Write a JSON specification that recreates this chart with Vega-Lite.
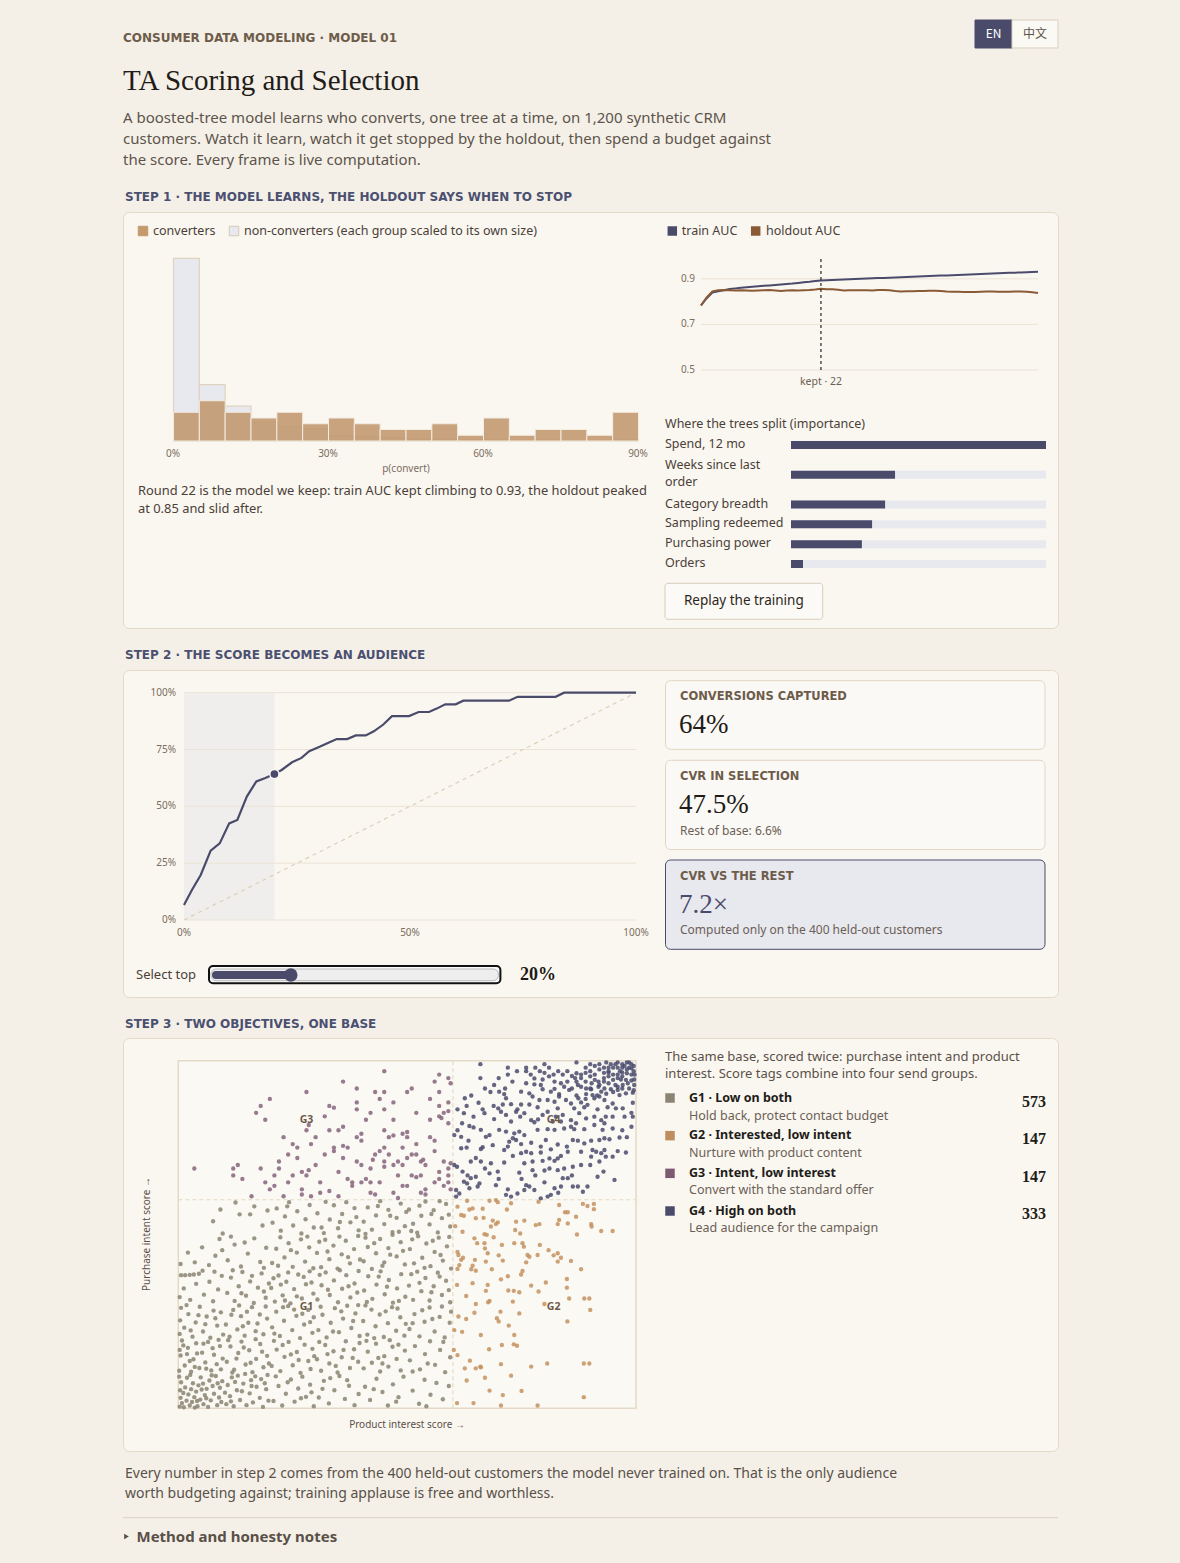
{
"$schema":"https://vega.github.io/schema/vega-lite/v6.json",
"background":"#f4f0e8",
"padding":{"left":122,"right":123,"top":0,"bottom":0},
"bounds":"flush",
"spacing":0,
"config":{
 "view":{"stroke":null},
 "axis":{"disable":true},
 "legend":{"disable":true},
 "scale":{"pointPadding":0,"bandPaddingInner":0,"bandPaddingOuter":0},
 "text":{"font":"Noto Sans","baseline":"middle","align":"left","fontSize":13,"color":"#4a4038"}
},
"datasets":{
 "hist":[{"lo":0,"hi":0.05,"conv":0.085,"non":0.54},{"lo":0.05,"hi":0.1,"conv":0.119,"non":0.167},{"lo":0.1,"hi":0.15,"conv":0.085,"non":0.103},{"lo":0.15,"hi":0.2,"conv":0.068,"non":0.056},{"lo":0.2,"hi":0.25,"conv":0.085,"non":0.041},{"lo":0.25,"hi":0.3,"conv":0.051,"non":0.035},{"lo":0.3,"hi":0.35,"conv":0.068,"non":0.015},{"lo":0.35,"hi":0.4,"conv":0.051,"non":0.012},{"lo":0.4,"hi":0.45,"conv":0.034,"non":0.009},{"lo":0.45,"hi":0.5,"conv":0.034,"non":0.006},{"lo":0.5,"hi":0.55,"conv":0.051,"non":0.006},{"lo":0.55,"hi":0.6,"conv":0.017,"non":0.003},{"lo":0.6,"hi":0.65,"conv":0.068,"non":0.003},{"lo":0.65,"hi":0.7,"conv":0.017,"non":0},{"lo":0.7,"hi":0.75,"conv":0.034,"non":0.003},{"lo":0.75,"hi":0.8,"conv":0.034,"non":0},{"lo":0.8,"hi":0.85,"conv":0.017,"non":0},{"lo":0.85,"hi":0.9,"conv":0.085,"non":0.003}],
 "auc":[{"r":1,"tr":0.783,"ho":0.783},{"r":2,"tr":0.815,"ho":0.818},{"r":3,"tr":0.84,"ho":0.845},{"r":4,"tr":0.845,"ho":0.85},{"r":5,"tr":0.85,"ho":0.851},{"r":6,"tr":0.855,"ho":0.85},{"r":7,"tr":0.858,"ho":0.849},{"r":8,"tr":0.861,"ho":0.85},{"r":9,"tr":0.863,"ho":0.849},{"r":10,"tr":0.865,"ho":0.848},{"r":11,"tr":0.867,"ho":0.849},{"r":12,"tr":0.869,"ho":0.85},{"r":13,"tr":0.871,"ho":0.851},{"r":14,"tr":0.873,"ho":0.849},{"r":15,"tr":0.875,"ho":0.847},{"r":16,"tr":0.877,"ho":0.849},{"r":17,"tr":0.879,"ho":0.85},{"r":18,"tr":0.882,"ho":0.849},{"r":19,"tr":0.885,"ho":0.85},{"r":20,"tr":0.887,"ho":0.851},{"r":21,"tr":0.89,"ho":0.853},{"r":22,"tr":0.893,"ho":0.856},{"r":23,"tr":0.894,"ho":0.854},{"r":24,"tr":0.895,"ho":0.854},{"r":25,"tr":0.896,"ho":0.852},{"r":26,"tr":0.897,"ho":0.849},{"r":27,"tr":0.898,"ho":0.85},{"r":28,"tr":0.899,"ho":0.85},{"r":29,"tr":0.9,"ho":0.85},{"r":30,"tr":0.901,"ho":0.85},{"r":31,"tr":0.902,"ho":0.849},{"r":32,"tr":0.903,"ho":0.851},{"r":33,"tr":0.904,"ho":0.851},{"r":34,"tr":0.905,"ho":0.85},{"r":35,"tr":0.906,"ho":0.846},{"r":36,"tr":0.907,"ho":0.844},{"r":37,"tr":0.908,"ho":0.845},{"r":38,"tr":0.909,"ho":0.845},{"r":39,"tr":0.91,"ho":0.846},{"r":40,"tr":0.911,"ho":0.847},{"r":41,"tr":0.912,"ho":0.848},{"r":42,"tr":0.913,"ho":0.848},{"r":43,"tr":0.914,"ho":0.846},{"r":44,"tr":0.915,"ho":0.844},{"r":45,"tr":0.916,"ho":0.843},{"r":46,"tr":0.917,"ho":0.843},{"r":47,"tr":0.918,"ho":0.842},{"r":48,"tr":0.919,"ho":0.842},{"r":49,"tr":0.92,"ho":0.842},{"r":50,"tr":0.921,"ho":0.843},{"r":51,"tr":0.922,"ho":0.844},{"r":52,"tr":0.923,"ho":0.844},{"r":53,"tr":0.924,"ho":0.843},{"r":54,"tr":0.925,"ho":0.843},{"r":55,"tr":0.926,"ho":0.843},{"r":56,"tr":0.927,"ho":0.844},{"r":57,"tr":0.928,"ho":0.844},{"r":58,"tr":0.929,"ho":0.843},{"r":59,"tr":0.93,"ho":0.841},{"r":60,"tr":0.931,"ho":0.838}],
 "imp":[{"f":"Spend, 12 mo","v":1,"lo":0,"hi":1},{"f":"Weeks since last\norder","v":0.408,"lo":0,"hi":1},{"f":"Category breadth","v":0.369,"lo":0,"hi":1},{"f":"Sampling redeemed","v":0.318,"lo":0,"hi":1},{"f":"Purchasing power","v":0.278,"lo":0,"hi":1},{"f":"Orders","v":0.047,"lo":0,"hi":1}],
 "gains":[{"s":0,"c":0.066},{"s":0.0175,"c":0.132},{"s":0.037,"c":0.198},{"s":0.059,"c":0.305},{"s":0.079,"c":0.337},{"s":0.1,"c":0.425},{"s":0.118,"c":0.44},{"s":0.139,"c":0.543},{"s":0.16,"c":0.61},{"s":0.18,"c":0.625},{"s":0.2,"c":0.642},{"s":0.216,"c":0.66},{"s":0.239,"c":0.694},{"s":0.26,"c":0.713},{"s":0.277,"c":0.743},{"s":0.3,"c":0.762},{"s":0.322,"c":0.782},{"s":0.338,"c":0.796},{"s":0.361,"c":0.796},{"s":0.38,"c":0.812},{"s":0.402,"c":0.812},{"s":0.42,"c":0.83},{"s":0.441,"c":0.86},{"s":0.46,"c":0.897},{"s":0.498,"c":0.897},{"s":0.519,"c":0.915},{"s":0.542,"c":0.915},{"s":0.559,"c":0.93},{"s":0.578,"c":0.949},{"s":0.601,"c":0.949},{"s":0.618,"c":0.965},{"s":0.719,"c":0.965},{"s":0.738,"c":0.982},{"s":0.822,"c":0.982},{"s":0.841,"c":1},{"s":1,"c":1}],
 "cards":[{"k":"conv","l":"CONVERSIONS CAPTURED","v":"64%"},{"k":"sel","l":"CVR IN SELECTION","v":"47.5%","n":"Rest of base: 6.6%"},{"k":"lift","l":"CVR VS THE REST","v":"7.2×","n":"Computed only on the 400 held-out customers"}],
 "groups":[{"g":"G1","t":"G1 · Low on both","s":"Hold back, protect contact budget","c":573},{"g":"G2","t":"G2 · Interested, low intent","s":"Nurture with product content","c":147},{"g":"G3","t":"G3 · Intent, low interest","s":"Convert with the standard offer","c":147},{"g":"G4","t":"G4 · High on both","s":"Lead audience for the campaign","c":333}],
 "g1":[{"x":0.3,"y":0.5},{"x":0.8,"y":1.5},{"x":1.2,"y":0.3},{"x":0.5,"y":3},{"x":1.8,"y":2.2},{"x":2.5,"y":0.8},{"x":2.2,"y":4},{"x":3,"y":1.8},{"x":3.5,"y":3.2},{"x":4.2,"y":0.6},{"x":4.8,"y":2.5},{"x":0.4,"y":5.2},{"x":1.5,"y":6},{"x":2.8,"y":5.5},{"x":3.9,"y":4.8},{"x":5.5,"y":1.2},{"x":5.8,"y":3.8},{"x":6.5,"y":0.4},{"x":6.2,"y":5.6},{"x":7.1,"y":2.3},{"x":7.8,"y":4.2},{"x":8.5,"y":0.9},{"x":8.9,"y":3.1},{"x":9.4,"y":1.8},{"x":0.6,"y":7.5},{"x":1.9,"y":8.8},{"x":3.2,"y":7.2},{"x":4.4,"y":6.6},{"x":4.9,"y":8.9},{"x":5.4,"y":7.1},{"x":6.8,"y":8},{"x":7.5,"y":6.4},{"x":8.2,"y":9.3},{"x":9.1,"y":5.9},{"x":9.6,"y":7.8},{"x":2.6,"y":9.6},{"x":0.2,"y":9.1},{"x":1.1,"y":4.4},{"x":3.6,"y":0.2},{"x":5.1,"y":5.4},{"x":6.1,"y":2.9},{"x":7.3,"y":9.5},{"x":8.6,"y":7.2},{"x":4.1,"y":2.1},
 {"x":10.5,"y":1.2},{"x":11.3,"y":3.5},{"x":12.1,"y":0.6},{"x":12.8,"y":5.2},{"x":13.5,"y":2.4},{"x":14.2,"y":7.1},{"x":14.9,"y":0.9},{"x":15.6,"y":4.3},{"x":16.3,"y":1.7},{"x":17.1,"y":6.2},{"x":17.8,"y":3},{"x":18.5,"y":0.4},{"x":19.2,"y":5.5},{"x":19.7,"y":2.2},{"x":10.8,"y":6.7},{"x":11.7,"y":8.9},{"x":13,"y":9.4},{"x":14.6,"y":9.9},{"x":15.9,"y":8.1},{"x":16.8,"y":9.2},{"x":18.1,"y":8.4},{"x":19.5,"y":9.6},{"x":10.2,"y":4.5},{"x":12.4,"y":7.6},{"x":13.9,"y":4.9},{"x":16,"y":6.4},{"x":18.9,"y":7.2},{"x":11.5,"y":2},
 {"x":20.8,"y":2.1},{"x":21.9,"y":6.4},{"x":22.7,"y":0.8},{"x":23.5,"y":4.2},{"x":24.6,"y":8.3},{"x":25.4,"y":1.9},{"x":26.2,"y":5.7},{"x":27.1,"y":9.1},{"x":27.9,"y":3.3},{"x":28.8,"y":6.8},{"x":29.6,"y":0.6},{"x":21.3,"y":9.2},{"x":23.9,"y":7.5},{"x":26.8,"y":2.9},{"x":29.1,"y":4.6},
 {"x":30.7,"y":3.1},{"x":31.8,"y":7.9},{"x":32.9,"y":1.4},{"x":34.1,"y":5.2},{"x":35.2,"y":9.3},{"x":36.4,"y":2.7},{"x":37.3,"y":6.5},{"x":38.5,"y":0.9},{"x":39.4,"y":4.1},{"x":33.2,"y":8.7},{"x":36.9,"y":8.1},{"x":31.5,"y":5.6},
 {"x":40.8,"y":6.2},{"x":41.9,"y":2.4},{"x":43.3,"y":8.5},{"x":44.6,"y":4.7},{"x":45.8,"y":0.8},{"x":46.9,"y":6.9},{"x":48.1,"y":3.2},{"x":49.2,"y":9.1},{"x":42.7,"y":5.5},{"x":47.6,"y":1.9},
 {"x":51.2,"y":5.1},{"x":52.6,"y":1.3},{"x":53.8,"y":8.2},{"x":55.1,"y":3.9},{"x":56.4,"y":7.3},{"x":57.8,"y":2.6},{"x":59.1,"y":6.4},{"x":54.2,"y":0.6},
 {"x":0.2,"y":10.8},{"x":0.5,"y":15.2},{"x":0.3,"y":16.8},{"x":0.8,"y":19.5},{"x":1.4,"y":12.3},{"x":2.1,"y":17.4},{"x":2.8,"y":10.5},{"x":3.3,"y":14.1},{"x":3.9,"y":18.7},{"x":4.6,"y":11.6},{"x":5.2,"y":16},{"x":5.9,"y":13.2},{"x":6.5,"y":19.1},{"x":7.2,"y":10.9},{"x":7.8,"y":15.4},{"x":8.4,"y":12.7},{"x":9.1,"y":17.9},{"x":9.7,"y":14.3},{"x":1.1,"y":18.1},{"x":2.5,"y":13.6},{"x":4.1,"y":15.8},{"x":6.1,"y":11.4},{"x":7.5,"y":17.3},{"x":8.8,"y":19.7},{"x":3.6,"y":11.9},{"x":5.5,"y":18.6},{"x":9.3,"y":11.2},{"x":1.9,"y":15.6},
 {"x":10.6,"y":13.4},{"x":11.4,"y":17.8},{"x":12.2,"y":11.1},{"x":13.1,"y":15.9},{"x":13.8,"y":19.2},{"x":14.7,"y":12.6},{"x":15.5,"y":16.7},{"x":16.2,"y":10.4},{"x":17,"y":14.2},{"x":17.9,"y":18.5},{"x":18.6,"y":11.8},{"x":19.4,"y":15.1},{"x":10.9,"y":19.6},{"x":12.7,"y":14.3},{"x":14.3,"y":17.5},{"x":15.8,"y":13.1},{"x":16.9,"y":19.9},{"x":18.3,"y":16.3},{"x":19.8,"y":12.9},{"x":11.8,"y":10.3},
 {"x":20.4,"y":12.2},{"x":21.5,"y":16.9},{"x":22.3,"y":10.7},{"x":23.2,"y":14.8},{"x":24.1,"y":19.1},{"x":25,"y":12.4},{"x":25.9,"y":16.2},{"x":26.7,"y":10.2},{"x":27.6,"y":18.3},{"x":28.4,"y":13.6},{"x":29.3,"y":17.1},{"x":20.9,"y":19.4},{"x":22.8,"y":18.2},{"x":24.6,"y":15.5},{"x":26.3,"y":13.9},{"x":28.9,"y":11.3},{"x":29.7,"y":15},
 {"x":30.3,"y":14.1},{"x":31.2,"y":10.8},{"x":32.1,"y":18.2},{"x":33,"y":12.9},{"x":33.9,"y":16.4},{"x":34.8,"y":10.3},{"x":35.7,"y":14.7},{"x":36.6,"y":19.3},{"x":37.5,"y":11.6},{"x":38.4,"y":17},{"x":39.3,"y":13.4},{"x":30.8,"y":19.1},{"x":32.6,"y":15.6},{"x":34.4,"y":12.2},{"x":36.1,"y":16.8},{"x":38.1,"y":14.5},{"x":39.6,"y":18.8},
 {"x":40.5,"y":11.5},{"x":41.4,"y":16.3},{"x":42.3,"y":13.1},{"x":43.2,"y":18.6},{"x":44.1,"y":10.6},{"x":45,"y":15},{"x":45.9,"y":12},{"x":46.8,"y":17.7},{"x":47.7,"y":14.2},{"x":48.6,"y":10.9},{"x":49.5,"y":16.6},{"x":41.1,"y":19.4},{"x":43.7,"y":14.5},{"x":46.2,"y":19.6},{"x":48.1,"y":18.3},{"x":44.6,"y":12.9},
 {"x":50.6,"y":13.8},{"x":51.7,"y":17.9},{"x":52.8,"y":11.2},{"x":53.9,"y":15.6},{"x":55,"y":19.3},{"x":56.1,"y":12.5},{"x":57.2,"y":16.8},{"x":58.3,"y":10.4},{"x":59.4,"y":14.7},{"x":51.2,"y":10.6},{"x":54.5,"y":12.9},{"x":57.9,"y":19.1},
 {"x":0.3,"y":21.4},{"x":0.4,"y":25.3},{"x":0.6,"y":28.9},{"x":1.3,"y":23.2},{"x":2.2,"y":27.1},{"x":3.1,"y":20.6},{"x":3.8,"y":24.7},{"x":4.7,"y":29.2},{"x":5.4,"y":22.1},{"x":6.2,"y":26.4},{"x":7,"y":20.3},{"x":7.7,"y":28.1},{"x":8.5,"y":23.8},{"x":9.3,"y":27.6},{"x":9.8,"y":21.2},{"x":1.8,"y":29.7},{"x":5.9,"y":24.2},{"x":8.1,"y":25.9},{"x":2.7,"y":22.4},{"x":4.4,"y":26.8},
 {"x":10.4,"y":24.1},{"x":11.2,"y":20.6},{"x":12,"y":28.3},{"x":12.9,"y":22.7},{"x":13.7,"y":26.5},{"x":14.5,"y":20.9},{"x":15.3,"y":24.6},{"x":16.1,"y":29.1},{"x":16.9,"y":22.2},{"x":17.8,"y":27},{"x":18.6,"y":21.3},{"x":19.4,"y":25.8},{"x":11.6,"y":26.9},{"x":13.3,"y":29.6},{"x":15,"y":27.8},{"x":17.3,"y":24.4},{"x":19.1,"y":29.3},{"x":14.1,"y":23.6},
 {"x":20.5,"y":23.3},{"x":21.4,"y":27.8},{"x":22.2,"y":20.8},{"x":23.1,"y":25.2},{"x":24,"y":29.4},{"x":24.9,"y":22.5},{"x":25.8,"y":26.6},{"x":26.6,"y":20.2},{"x":27.5,"y":24.1},{"x":28.4,"y":28.3},{"x":29.3,"y":21.7},{"x":21,"y":21.5},{"x":22.9,"y":29.1},{"x":25.3,"y":28.4},{"x":27.1,"y":27.2},{"x":28.8,"y":24.8},{"x":29.6,"y":26.2},
 {"x":30.6,"y":22.5},{"x":31.5,"y":26.9},{"x":32.4,"y":20.4},{"x":33.3,"y":24.6},{"x":34.2,"y":28.8},{"x":35.1,"y":21.9},{"x":36,"y":25.8},{"x":36.9,"y":29.5},{"x":37.8,"y":23.1},{"x":38.7,"y":27.3},{"x":39.6,"y":20.8},{"x":31.1,"y":29.2},{"x":33.8,"y":22.1},{"x":35.6,"y":27.9},{"x":38.2,"y":25.1},{"x":39.3,"y":29.7},
 {"x":40.4,"y":25.1},{"x":41.3,"y":21.2},{"x":42.2,"y":28.4},{"x":43.1,"y":23.6},{"x":44,"y":27},{"x":44.9,"y":20.5},{"x":45.8,"y":24.5},{"x":46.7,"y":29.1},{"x":47.6,"y":22.3},{"x":48.5,"y":26.2},{"x":49.4,"y":20.9},{"x":40.9,"y":29.6},{"x":42.8,"y":20.2},{"x":45.3,"y":27.9},{"x":47.9,"y":28.7},{"x":49.7,"y":24.3},
 {"x":50.5,"y":22.8},{"x":51.6,"y":27.1},{"x":52.7,"y":20.7},{"x":53.8,"y":24.9},{"x":54.9,"y":29},{"x":56,"y":22.1},{"x":57.1,"y":26.3},{"x":58.2,"y":20.4},{"x":59.3,"y":24.6},{"x":51.2,"y":24.5},{"x":53.3,"y":28.2},{"x":55.5,"y":25.7},{"x":57.6,"y":29.3},{"x":59.6,"y":27.8},
 {"x":0.6,"y":38.3},{"x":1.5,"y":38.3},{"x":2.5,"y":38.4},{"x":3.4,"y":38.5},{"x":4.5,"y":38.7},{"x":5.3,"y":39.6},{"x":0.3,"y":32},{"x":1.2,"y":34.5},{"x":2.6,"y":31.2},{"x":3.9,"y":35.8},{"x":5.6,"y":32.7},{"x":6.8,"y":36.4},{"x":7.6,"y":30.8},{"x":8.7,"y":34.2},{"x":9.5,"y":38.1},{"x":7.9,"y":39.3},
 {"x":10.7,"y":33.2},{"x":11.5,"y":37.6},{"x":12.3,"y":30.9},{"x":13.2,"y":35.1},{"x":14,"y":39.2},{"x":14.8,"y":32.4},{"x":15.7,"y":36.5},{"x":16.5,"y":30.3},{"x":17.4,"y":34.7},{"x":18.2,"y":38.8},{"x":19.1,"y":31.8},{"x":19.8,"y":35.9},{"x":11.9,"y":39.7},{"x":13.8,"y":33.1},{"x":16.1,"y":38.1},{"x":18.7,"y":33.6},
 {"x":20.3,"y":34.6},{"x":21.1,"y":30.7},{"x":21.9,"y":38.2},{"x":22.8,"y":32.5},{"x":23.6,"y":36.4},{"x":24.5,"y":30.2},{"x":25.3,"y":34.3},{"x":26.2,"y":38.5},{"x":27,"y":31.6},{"x":27.9,"y":35.7},{"x":28.7,"y":39.4},{"x":29.5,"y":33},{"x":20.8,"y":37.4},{"x":22.4,"y":35.6},{"x":24,"y":39.1},{"x":25.9,"y":32.2},{"x":27.4,"y":37.8},{"x":29.1,"y":36.2},{"x":23.3,"y":31},
 {"x":30.4,"y":31.3},{"x":31.3,"y":35.4},{"x":32.2,"y":39.1},{"x":33.1,"y":32.6},{"x":34,"y":36.8},{"x":34.9,"y":30.5},{"x":35.8,"y":34.4},{"x":36.7,"y":38.3},{"x":37.6,"y":31.9},{"x":38.5,"y":35.9},{"x":39.4,"y":39.5},{"x":30.9,"y":38.4},{"x":32.7,"y":34.1},{"x":35.3,"y":39.7},{"x":37.2,"y":35.1},{"x":39.1,"y":33.3},
 {"x":40.6,"y":33.9},{"x":41.5,"y":38},{"x":42.4,"y":31.5},{"x":43.3,"y":35.6},{"x":44.2,"y":39.4},{"x":45.1,"y":32.8},{"x":46,"y":36.9},{"x":46.9,"y":30.4},{"x":47.8,"y":34.5},{"x":48.7,"y":38.6},{"x":49.6,"y":32.1},{"x":41.2,"y":30.6},{"x":43.8,"y":37.9},{"x":45.6,"y":35},{"x":48.2,"y":30.9},
 {"x":50.4,"y":35.3},{"x":51.3,"y":31.2},{"x":52.2,"y":39.3},{"x":53.1,"y":33.7},{"x":54,"y":37.5},{"x":54.9,"y":31},{"x":55.8,"y":35.1},{"x":56.7,"y":39},{"x":57.6,"y":32.6},{"x":58.5,"y":36.7},{"x":59.4,"y":30.5},{"x":50.9,"y":38.6},{"x":52.7,"y":36.1},{"x":55.3,"y":33.4},{"x":57.1,"y":37.9},{"x":59.1,"y":34},
 {"x":0.5,"y":41.5},{"x":2.1,"y":44.8},{"x":3.6,"y":42},{"x":5.2,"y":46.3},{"x":6.7,"y":41.2},{"x":8.1,"y":43.9},{"x":9,"y":48.7},{"x":9.6,"y":45.5},
 {"x":10.8,"y":42.6},{"x":12.3,"y":47.1},{"x":13.7,"y":40.8},{"x":15.2,"y":44.5},{"x":16.6,"y":48.9},{"x":17.9,"y":42.1},{"x":19.2,"y":46.2},{"x":11.5,"y":49.4},{"x":14.5,"y":47.7},{"x":18.7,"y":40.4},
 {"x":20.5,"y":41.8},{"x":21.4,"y":45.9},{"x":22.3,"y":49.2},{"x":23.2,"y":43.4},{"x":24.1,"y":47.5},{"x":25,"y":40.7},{"x":25.9,"y":44.8},{"x":26.8,"y":48.6},{"x":27.7,"y":42.2},{"x":28.6,"y":46.3},{"x":29.5,"y":40.3},{"x":21.8,"y":41},{"x":24.6,"y":45.5},{"x":28.2,"y":49.4},
 {"x":30.3,"y":44.7},{"x":31.2,"y":40.6},{"x":32.1,"y":48.5},{"x":33,"y":42.9},{"x":33.9,"y":46.8},{"x":34.8,"y":40.2},{"x":35.7,"y":44.3},{"x":36.6,"y":48.2},{"x":37.5,"y":41.7},{"x":38.4,"y":45.8},{"x":39.3,"y":49.6},{"x":30.8,"y":47.9},{"x":32.6,"y":45.1},{"x":35.2,"y":49.4},{"x":37.1,"y":43.5},{"x":39.7,"y":42.8},
 {"x":40.5,"y":42.3},{"x":41.4,"y":46.4},{"x":42.3,"y":40.1},{"x":43.2,"y":44.6},{"x":44.1,"y":48.7},{"x":45,"y":42},{"x":45.9,"y":46.1},{"x":46.8,"y":49.9},{"x":47.7,"y":43.7},{"x":48.6,"y":47.8},{"x":49.5,"y":41.4},{"x":40.9,"y":49.1},{"x":42.8,"y":47.5},{"x":44.6,"y":41},{"x":46.3,"y":44.2},{"x":49.1,"y":45.3},
 {"x":50.6,"y":45.8},{"x":51.5,"y":41.7},{"x":52.4,"y":49.5},{"x":53.3,"y":43.3},{"x":54.2,"y":47.4},{"x":55.1,"y":40.9},{"x":56,"y":45},{"x":56.9,"y":49.1},{"x":57.8,"y":42.5},{"x":58.7,"y":46.6},{"x":59.6,"y":40.2},{"x":51.1,"y":48.6},{"x":53.8,"y":40.4},{"x":55.6,"y":48.2},{"x":57.3,"y":44.1},{"x":59.2,"y":49.3},
 {"x":9.7,"y":50.3},{"x":7.6,"y":53.8},{"x":9.2,"y":57.2},
 {"x":12.5,"y":59.2},{"x":13.4,"y":55.8},{"x":15.7,"y":55.8},{"x":16.6,"y":58.1},{"x":18.4,"y":52.6},{"x":19.5,"y":56.9},
 {"x":20.6,"y":53.4},{"x":21.5,"y":57.5},{"x":22.4,"y":51.1},{"x":23.3,"y":55.2},{"x":24.2,"y":59.3},{"x":25.1,"y":52.6},{"x":26,"y":56.7},{"x":26.9,"y":50.3},{"x":27.8,"y":54.4},{"x":28.7,"y":58.5},{"x":29.6,"y":52},{"x":23.8,"y":58.1},
 {"x":30.4,"y":56.1},{"x":31.3,"y":52},{"x":32.2,"y":59.4},{"x":33.1,"y":54.3},{"x":34,"y":58.4},{"x":34.9,"y":51.8},{"x":35.8,"y":55.9},{"x":36.7,"y":59.3},{"x":37.6,"y":53.5},{"x":38.5,"y":57.6},{"x":39.4,"y":51.2},{"x":31.8,"y":50.4},{"x":35.3,"y":53.6},{"x":38.9,"y":55},
 {"x":40.5,"y":53.7},{"x":41.4,"y":57.8},{"x":42.3,"y":51.4},{"x":43.2,"y":55.5},{"x":44.1,"y":59.6},{"x":45,"y":53},{"x":45.9,"y":57.1},{"x":46.8,"y":50.7},{"x":47.7,"y":54.8},{"x":48.6,"y":58.9},{"x":49.5,"y":52.4},{"x":40.9,"y":50.2},{"x":43.6,"y":58.2},{"x":46.3,"y":55.4},{"x":48.2,"y":50.8},{"x":49.8,"y":56.5},
 {"x":50.4,"y":57.2},{"x":51.3,"y":53.1},{"x":52.2,"y":50.5},{"x":53.1,"y":55.4},{"x":54,"y":59.5},{"x":54.9,"y":52.9},{"x":55.8,"y":57},{"x":56.7,"y":50.6},{"x":57.6,"y":54.7},{"x":58.5,"y":58.8},{"x":59.4,"y":52.3},{"x":50.9,"y":51},{"x":52.7,"y":58.3},{"x":55.3,"y":55.9},{"x":57.1,"y":59.6},{"x":59.1,"y":55.7}],
 "g2":[{"x":63.1,"y":59.7},{"x":61,"y":58},{"x":61.8,"y":55.6},{"x":62.4,"y":55.4},{"x":63.6,"y":57.2},{"x":64.3,"y":57.5},{"x":66.5,"y":57.4},{"x":68,"y":59.7},{"x":69.4,"y":59.9},{"x":69.8,"y":59.3},{"x":72.7,"y":59},{"x":71.8,"y":57.2},{"x":65,"y":54.7},{"x":66.7,"y":54.8},{"x":68.7,"y":54},{"x":69.8,"y":53.5},{"x":69.4,"y":53},{"x":68.3,"y":52.3},{"x":66.9,"y":50.1},{"x":67.4,"y":49.9},{"x":68.9,"y":49.2},{"x":62.1,"y":50.8},{"x":60.5,"y":52.4},{"x":73.8,"y":53.7},{"x":75.6,"y":54},{"x":78.1,"y":52.7},{"x":78.9,"y":53},{"x":73.6,"y":51.3},{"x":74.7,"y":50.3},{"x":78.7,"y":59.4},{"x":83.2,"y":58.5},{"x":84.5,"y":56.4},{"x":85.1,"y":56.4},{"x":83.2,"y":54.2},{"x":82.9,"y":53},{"x":85.1,"y":53.2},{"x":86.9,"y":55.1},{"x":87.1,"y":50},{"x":88.4,"y":58.8},{"x":89.4,"y":58.2},{"x":90.8,"y":58.8},{"x":90.8,"y":57.3},{"x":90.2,"y":53},{"x":90.3,"y":52.3},{"x":92.4,"y":51},{"x":94.9,"y":51},
 {"x":64.7,"y":48.9},{"x":65.3,"y":47.5},{"x":66.9,"y":47.5},{"x":70.7,"y":47},{"x":73.4,"y":47.5},{"x":75.2,"y":47.5},{"x":75.5,"y":46.5},{"x":76.3,"y":44.1},{"x":76.7,"y":43.6},{"x":78.5,"y":44.1},{"x":80.9,"y":45.5},{"x":82.9,"y":44.6},{"x":83.6,"y":43.3},{"x":82.9,"y":42.2},{"x":85.8,"y":42.4},{"x":61.2,"y":44.1},{"x":62.2,"y":43.3},{"x":61.8,"y":42.7},{"x":61.4,"y":41.2},{"x":61,"y":40.1},{"x":64.8,"y":42.7},{"x":64.3,"y":41},{"x":65,"y":39.6},{"x":67.6,"y":44.6},{"x":67.2,"y":42.2},{"x":68.5,"y":40},{"x":70.9,"y":42.5},{"x":75.2,"y":39.5},{"x":74.9,"y":38.5},{"x":70.5,"y":37.1},{"x":77.1,"y":35.3},{"x":80.3,"y":36.2},{"x":78.7,"y":33.6},{"x":84.9,"y":37.2},{"x":84.9,"y":34.7},{"x":85.4,"y":31.6},{"x":88.7,"y":31.6},{"x":89.8,"y":31.6},{"x":90,"y":28.3},{"x":60.9,"y":35.5},{"x":64.3,"y":36},{"x":67.6,"y":35.5},{"x":67.2,"y":33.8},{"x":72.1,"y":33.9},{"x":73.3,"y":33.8},{"x":74.5,"y":33.4},{"x":62.9,"y":32.3},{"x":68,"y":30.9},{"x":67.7,"y":30.5},{"x":73.1,"y":30.7},{"x":70.4,"y":27.8},{"x":61.2,"y":26.4},{"x":62.9,"y":25.7},{"x":64.7,"y":27.5},{"x":69.6,"y":25.9},{"x":74.5,"y":27.3},{"x":72.2,"y":23.8},{"x":73.4,"y":21.1},{"x":73.3,"y":18.4},{"x":66.1,"y":21.1},{"x":60.3,"y":22.5},{"x":60.2,"y":16.8},{"x":61,"y":15.3},{"x":67.9,"y":17},{"x":70.7,"y":18.2},{"x":63.7,"y":13.7},{"x":62.6,"y":11.5},{"x":65,"y":11.5},{"x":66.1,"y":11.8},{"x":67,"y":8.8},{"x":70.5,"y":12.7},{"x":72.7,"y":9.4},{"x":77.1,"y":12},{"x":80.6,"y":12.9},{"x":88.6,"y":12.9},{"x":89.8,"y":12.9},{"x":68,"y":5.1},{"x":70.9,"y":3.8},{"x":75,"y":5},{"x":88.6,"y":3.2},{"x":60.9,"y":1.5},{"x":64.5,"y":1.5},{"x":70.5,"y":0.8},{"x":78.5,"y":0.8},
 {"x":61,"y":45},{"x":64,"y":40},{"x":67,"y":46},{"x":70,"y":44},{"x":72,"y":38},{"x":76,"y":42},{"x":79,"y":47},{"x":82,"y":44},{"x":65,"y":30},{"x":70,"y":25},{"x":74,"y":18},{"x":66,"y":12},{"x":62,"y":22},{"x":80,"y":30},{"x":85,"y":25},{"x":88,"y":40},{"x":63,"y":8}],
 "g3":[{"x":3.5,"y":69},{"x":12,"y":69},{"x":12,"y":67},{"x":13,"y":70},{"x":17,"y":85},{"x":18,"y":87},{"x":19,"y":83},{"x":20,"y":89},{"x":28,"y":91},{"x":28,"y":80},{"x":28.5,"y":81.5},{"x":30,"y":78},{"x":29,"y":76},{"x":25,"y":76},{"x":26,"y":75},{"x":24,"y":73},{"x":22,"y":71},{"x":22,"y":69},{"x":21,"y":67},{"x":18,"y":69},{"x":19,"y":65},{"x":16,"y":61},{"x":20,"y":63},{"x":21,"y":64},{"x":23,"y":61},{"x":24,"y":65},{"x":25,"y":67},{"x":27,"y":68},{"x":28,"y":67},{"x":28.5,"y":68.5},{"x":27,"y":63},{"x":29,"y":61},{"x":27,"y":61.5},{"x":31,"y":62},{"x":31,"y":65},{"x":33,"y":87},{"x":34,"y":86.5},{"x":33,"y":80},{"x":35,"y":80},{"x":36,"y":81},{"x":32,"y":73},{"x":34,"y":75},{"x":34,"y":74},{"x":36,"y":75.5},{"x":37,"y":75},{"x":36,"y":72},{"x":35,"y":68},{"x":33,"y":62.5},{"x":35,"y":61},{"x":36,"y":94},{"x":39,"y":88},{"x":39,"y":86},{"x":39,"y":78},{"x":40,"y":79},{"x":40,"y":77},{"x":41,"y":83},{"x":42,"y":85},{"x":39,"y":92},{"x":43,"y":91},{"x":44,"y":89},{"x":45,"y":97},{"x":45,"y":91},{"x":45,"y":86},{"x":47,"y":83},{"x":45,"y":80},{"x":46,"y":78},{"x":47,"y":78.5},{"x":49,"y":79},{"x":50,"y":79.5},{"x":50,"y":78},{"x":45,"y":75},{"x":46,"y":73},{"x":45,"y":71},{"x":45,"y":69.5},{"x":47,"y":70},{"x":48,"y":71},{"x":49,"y":75},{"x":49,"y":70},{"x":50,"y":72},{"x":51,"y":73},{"x":52,"y":73},{"x":52,"y":76},{"x":53,"y":71},{"x":54,"y":70},{"x":51,"y":67},{"x":52,"y":66.5},{"x":53,"y":62},{"x":54,"y":61.5},{"x":50,"y":64},{"x":49,"y":64},{"x":48,"y":60.5},{"x":47,"y":62},{"x":44,"y":74},{"x":43,"y":73},{"x":42,"y":69},{"x":41,"y":66},{"x":42,"y":65},{"x":40,"y":65},{"x":38,"y":65},{"x":38,"y":64},{"x":39,"y":71},{"x":40,"y":70},{"x":42,"y":62},{"x":43,"y":61.5},{"x":50,"y":91},{"x":51,"y":92},{"x":55,"y":89},{"x":56,"y":94},{"x":57,"y":96},{"x":59,"y":95},{"x":59.5,"y":93.5},{"x":57,"y":91},{"x":59,"y":88},{"x":57,"y":87},{"x":58,"y":85},{"x":57,"y":84},{"x":57.5,"y":83.5},{"x":55,"y":83},{"x":59,"y":82},{"x":59,"y":85.5},{"x":55,"y":78},{"x":56,"y":77},{"x":56,"y":74},{"x":53.5,"y":71.5},{"x":58,"y":71},{"x":59,"y":69},{"x":59.5,"y":70.5},{"x":57,"y":68},{"x":59,"y":67},{"x":57,"y":66},{"x":58,"y":64},{"x":59,"y":65},{"x":59.5,"y":63},{"x":54,"y":63},{"x":56,"y":65},{"x":53,"y":67},{"x":42.5,"y":71.5},{"x":37,"y":66},{"x":30,"y":70},{"x":26,"y":72},{"x":14,"y":66},{"x":23,"y":78},{"x":32,"y":84},{"x":47,"y":88},{"x":52,"y":85},{"x":44,"y":65},{"x":48,"y":67}],
 "g4":[{"x":66,"y":99},{"x":76,"y":98},{"x":80,"y":99},{"x":81,"y":98},{"x":87,"y":99.5},{"x":89,"y":98},{"x":94,"y":98},{"x":96,"y":99.5},{"x":97,"y":99},{"x":98,"y":99.5},{"x":99,"y":99},{"x":99.5,"y":98.5},{"x":95,"y":98},{"x":94,"y":97},{"x":93,"y":98},{"x":97,"y":98},{"x":98.5,"y":98},{"x":99.5,"y":97},
 {"x":72,"y":96},{"x":76,"y":97},{"x":79,"y":97},{"x":85,"y":97},{"x":86,"y":95.6},{"x":86.7,"y":95},{"x":87,"y":96.4},{"x":88,"y":96},{"x":93,"y":95},{"x":95,"y":96},{"x":96,"y":96},{"x":97,"y":96.6},{"x":98,"y":96.4},{"x":99,"y":96},{"x":96.7,"y":94.6},{"x":97.8,"y":94.5},{"x":99,"y":94.3},{"x":99.6,"y":94.6},{"x":91.8,"y":94},{"x":90.3,"y":93.5},{"x":79.6,"y":94.6},{"x":77.8,"y":94.9},{"x":82.2,"y":94},{"x":83.6,"y":93.5},
 {"x":71.4,"y":92},{"x":76,"y":93.5},{"x":77.8,"y":93.2},{"x":79.2,"y":93},{"x":79.6,"y":91.8},{"x":81.4,"y":91.1},{"x":82.2,"y":91.9},{"x":83.2,"y":90.4},{"x":84.3,"y":92.5},{"x":85.4,"y":91.6},{"x":87.3,"y":93},{"x":89.1,"y":92},{"x":90.2,"y":91.8},{"x":91.8,"y":92.5},{"x":93.1,"y":92},{"x":94.5,"y":91.8},{"x":96,"y":91.6},{"x":97.1,"y":93},{"x":98.2,"y":93.5},{"x":99.6,"y":93},{"x":99.3,"y":90.8},{"x":97.8,"y":90.6},{"x":96.4,"y":90.1},{"x":92.4,"y":91.1},{"x":90.5,"y":90.1},{"x":89.1,"y":90.4},{"x":76.7,"y":90.6},{"x":74.9,"y":91.1},{"x":71.2,"y":90.4},{"x":68.2,"y":91},{"x":70.1,"y":91.1},
 {"x":62.6,"y":89.2},{"x":65.6,"y":87.9},{"x":66.5,"y":86},{"x":68.9,"y":87},{"x":69.9,"y":86.3},{"x":70.9,"y":87.4},{"x":72.7,"y":87.5},{"x":74.9,"y":87.4},{"x":76.7,"y":87.4},{"x":77.4,"y":89.7},{"x":78.9,"y":88.7},{"x":80.7,"y":88.7},{"x":82.2,"y":88.2},{"x":83.2,"y":89.7},{"x":84.7,"y":88.7},{"x":85.8,"y":87.7},{"x":87.4,"y":89.2},{"x":89.4,"y":87.3},{"x":90.9,"y":89.2},{"x":92,"y":89.7},{"x":93.1,"y":88.7},{"x":94.9,"y":87.7},{"x":95.6,"y":86.3},{"x":97.1,"y":86.3},{"x":99.3,"y":87.9},{"x":93.8,"y":86.6},{"x":91.6,"y":86},{"x":88.7,"y":86.6},{"x":86.5,"y":86.3},{"x":82.9,"y":86.3},{"x":78.5,"y":86.6},{"x":74.1,"y":86},{"x":71.6,"y":89.2},
 {"x":73.8,"y":85.3},{"x":74.7,"y":83.9},{"x":75.6,"y":84.9},{"x":77.1,"y":82.9},{"x":77.8,"y":82.3},{"x":78.6,"y":83.1},{"x":79.6,"y":84.4},{"x":80.7,"y":85.3},{"x":82.5,"y":83.9},{"x":84,"y":84.4},{"x":85.8,"y":82.9},{"x":87.6,"y":84.9},{"x":89.1,"y":83.4},{"x":90.9,"y":83.9},{"x":92.4,"y":82.9},{"x":93.4,"y":83.9},{"x":94.9,"y":83.9},{"x":97.5,"y":83.9},{"x":99.3,"y":83.9},{"x":70.5,"y":85.3},{"x":71.6,"y":84.4},{"x":69,"y":83.2},{"x":66.9,"y":84.9},{"x":64.5,"y":83.9},{"x":62.4,"y":84.9},{"x":72.7,"y":82.5},{"x":81.8,"y":82.5},{"x":83.6,"y":82.5},{"x":86.9,"y":82},
 {"x":63.6,"y":81.2},{"x":64.5,"y":80.8},{"x":66.1,"y":80.1},{"x":67.2,"y":78.1},{"x":70.1,"y":80.1},{"x":71.6,"y":79.6},{"x":73.4,"y":79.1},{"x":74.5,"y":79.6},{"x":75.6,"y":78.6},{"x":78.5,"y":80.1},{"x":80.7,"y":80.3},{"x":82.2,"y":80.1},{"x":84.3,"y":80.5},{"x":85.8,"y":81},{"x":86.5,"y":80.3},{"x":88.7,"y":80.3},{"x":90.9,"y":81.5},{"x":92.7,"y":80.1},{"x":93.1,"y":82},{"x":94.9,"y":80.5},{"x":60.3,"y":78.6},{"x":61.8,"y":78.1},{"x":68,"y":78.6},
 {"x":61.8,"y":74.8},{"x":63.4,"y":77},{"x":66.5,"y":75.1},{"x":68.7,"y":75.7},{"x":71.2,"y":74.3},{"x":72,"y":75.3},{"x":72.3,"y":76.7},{"x":73.1,"y":77.7},{"x":73.8,"y":77.2},{"x":74.9,"y":76},{"x":77.1,"y":76.4},{"x":79.2,"y":75.3},{"x":80.3,"y":77.2},{"x":81.4,"y":74.5},{"x":82.9,"y":75.9},{"x":84.9,"y":75.3},{"x":86.2,"y":77.2},{"x":87.3,"y":77},{"x":88.7,"y":76.2},{"x":90.2,"y":77},{"x":92,"y":77.2},{"x":93.1,"y":77.7},{"x":94.2,"y":77.4},{"x":96.4,"y":77.9},{"x":66.1,"y":74.6},
 {"x":73.1,"y":72.6},{"x":74.9,"y":73.4},{"x":76,"y":73.8},{"x":77.1,"y":73.4},{"x":79.2,"y":73.6},{"x":81.1,"y":71.9},{"x":82.9,"y":71.9},{"x":83.6,"y":72.6},{"x":85.1,"y":73.8},{"x":88,"y":73.8},{"x":90.2,"y":72.4},{"x":91.3,"y":73.8},{"x":92.4,"y":73.4},{"x":93.4,"y":72.4},{"x":94.9,"y":72.4},{"x":97.8,"y":73.6},{"x":93.1,"y":74.3},{"x":90.5,"y":74.3},{"x":63.9,"y":71},{"x":66.1,"y":71},{"x":68.3,"y":70.5},{"x":71.2,"y":70.7},{"x":75.6,"y":70.5},{"x":77.4,"y":71},{"x":79.6,"y":71.2},{"x":82.2,"y":71.2},
 {"x":60.3,"y":70},{"x":60.9,"y":69.5},{"x":62.1,"y":68.1},{"x":63.9,"y":66.2},{"x":65,"y":66.6},{"x":68,"y":67.6},{"x":69.8,"y":68.1},{"x":74.5,"y":67.8},{"x":77.4,"y":68.5},{"x":80,"y":68.4},{"x":81.1,"y":69},{"x":82.9,"y":68.5},{"x":84.3,"y":69},{"x":86.2,"y":69.5},{"x":84,"y":66.2},{"x":91.6,"y":66.6},{"x":92.9,"y":68.1},{"x":95.3,"y":65.7},{"x":63.2,"y":67},
 {"x":60.7,"y":62.8},{"x":61.4,"y":61.8},{"x":60.7,"y":60.9},{"x":62.4,"y":65.2},{"x":63.1,"y":64.7},{"x":63.6,"y":63.3},{"x":65.4,"y":63.8},{"x":65.8,"y":64.7},{"x":69.4,"y":64.2},{"x":71.6,"y":61.4},{"x":72.7,"y":60.9},{"x":74.1,"y":61.8},{"x":75.6,"y":62.8},{"x":76,"y":64.2},{"x":76.7,"y":63.8},{"x":77.8,"y":62.8},{"x":79.2,"y":60.4},{"x":80.7,"y":60.9},{"x":82.2,"y":63.3},{"x":83.6,"y":63.8},{"x":85.1,"y":66.2},{"x":86.2,"y":63.8},{"x":87.3,"y":63.8},{"x":88.4,"y":62.3},{"x":89.4,"y":63.8},{"x":81.4,"y":61.4},
 {"x":88,"y":95},{"x":89,"y":96.5},{"x":90,"y":97},{"x":91,"y":96},{"x":92,"y":97.5},{"x":93,"y":96.5},{"x":94,"y":95.5},{"x":95,"y":94.5},{"x":96,"y":95},{"x":97,"y":95.5},{"x":98,"y":97.5},{"x":99,"y":97.8},{"x":99.7,"y":96},{"x":96.5,"y":97},{"x":95.5,"y":99},{"x":94.5,"y":99},{"x":93.5,"y":99.5},{"x":92,"y":99},{"x":91,"y":98.5},{"x":90,"y":99},{"x":97.5,"y":98.5},{"x":98.5,"y":99.5},{"x":96,"y":98},{"x":94,"y":96.5},{"x":93,"y":94},{"x":91,"y":94.5},{"x":92,"y":93},{"x":90,"y":95.5},{"x":89,"y":94},{"x":88,"y":92.5},{"x":87,"y":94},{"x":95.5,"y":93},{"x":97,"y":92},{"x":98.5,"y":92},{"x":99.5,"y":91.5},{"x":96,"y":92.5},{"x":94,"y":93.5},{"x":95,"y":91},{"x":93.5,"y":90.5},{"x":91.5,"y":90},{"x":90,"y":92},{"x":89,"y":89},{"x":88,"y":88},{"x":87,"y":90},{"x":86,"y":92},{"x":85,"y":94},{"x":84,"y":96},{"x":83,"y":97},{"x":82,"y":96},{"x":81,"y":95.5},{"x":80,"y":96.5},{"x":78,"y":98},{"x":77,"y":96},{"x":74,"y":97},{"x":73,"y":94},{"x":72,"y":98},{"x":70,"y":95},{"x":69,"y":93},{"x":67,"y":92},{"x":66,"y":95},{"x":64,"y":90},{"x":63,"y":87},{"x":62,"y":82},{"x":61,"y":86},{"x":61,"y":80},{"x":63,"y":75},{"x":65,"y":72},{"x":67,"y":69},{"x":70,"y":66},{"x":72,"y":63},{"x":75,"y":66},{"x":78,"y":67},{"x":80,"y":65},{"x":83,"y":62},{"x":86,"y":67},{"x":88,"y":70},{"x":90,"y":70},{"x":92,"y":71},{"x":96,"y":74},{"x":98,"y":78},{"x":97,"y":80},{"x":99,"y":81},{"x":99,"y":85}]
},
"vconcat":[
{"width":935,"height":212,
 "resolve":{"scale":{"x":"independent","y":"independent","color":"independent"}},
 "layer":[
  {"data":{"values":[{"t":"CONSUMER DATA MODELING · MODEL 01"}]},"mark":{"type":"text","font":"DejaVu Sans","fontWeight":"bold","fontSize":12,"color":"#6e5c4a"},
   "encoding":{"text":{"field":"t"},"x":{"field":"t","type":"nominal","scale":{"type":"point","range":[0,0]}},"y":{"field":"t","type":"nominal","scale":{"type":"point","range":[37.5,37.5]}}}},
  {"data":{"values":[{"t":"TA Scoring and Selection"}]},"mark":{"type":"text","font":"Liberation Serif","fontSize":29,"baseline":"alphabetic","color":"#221c18"},
   "encoding":{"text":{"field":"t"},"x":{"field":"t","type":"nominal","scale":{"type":"point","range":[0,0]}},"y":{"field":"t","type":"nominal","scale":{"type":"point","range":[90,90]}}}},
  {"data":{"values":[{"n":1,"t":"A boosted-tree model learns who converts, one tree at a time, on 1,200 synthetic CRM"},{"n":2,"t":"customers. Watch it learn, watch it get stopped by the holdout, then spend a budget against"},{"n":3,"t":"the score. Every frame is live computation."}]},
   "mark":{"type":"text","fontSize":15,"color":"#5d544b"},
   "encoding":{"text":{"field":"t"},"x":{"field":"n","type":"ordinal","scale":{"type":"point","range":[0,0]}},"y":{"field":"n","type":"ordinal","scale":{"type":"point","range":[118,159.5]}}}},
  {"data":{"values":[{"k":"EN"}]},"mark":{"type":"rect","fill":"#4a4b6b","stroke":"#4a4b6b","strokeWidth":1},
   "encoding":{"x":{"field":"k","type":"nominal","scale":{"type":"band","range":[852,889]}},"y":{"field":"k","type":"nominal","scale":{"type":"band","range":[20,48]}}}},
  {"data":{"values":[{"k":"中文"}]},"mark":{"type":"rect","fill":"#fbf9f4","stroke":"#d8cebd","strokeWidth":1},
   "encoding":{"x":{"field":"k","type":"nominal","scale":{"type":"band","range":[889,935]}},"y":{"field":"k","type":"nominal","scale":{"type":"band","range":[20,48]}}}},
  {"data":{"values":[{"k":"EN"},{"k":"中文"}]},"mark":{"type":"text","align":"center","fontSize":12,"font":"Noto Sans CJK SC"},
   "encoding":{"text":{"field":"k"},"x":{"field":"k","type":"nominal","scale":{"type":"point","domain":["EN","中文"],"range":[870.5,912]}},
    "y":{"field":"k","type":"nominal","scale":{"type":"point","range":[34,34]}},
    "color":{"field":"k","type":"nominal","scale":{"domain":["EN","中文"],"range":["#ffffff","#5d544b"]},"legend":null}}},
  {"data":{"values":[{"t":"STEP 1 · THE MODEL LEARNS, THE HOLDOUT SAYS WHEN TO STOP"}]},"mark":{"type":"text","font":"DejaVu Sans","fontWeight":"bold","fontSize":12,"color":"#4b4f70"},
   "encoding":{"text":{"field":"t"},"x":{"field":"t","type":"nominal","scale":{"type":"point","range":[2,2]}},"y":{"field":"t","type":"nominal","scale":{"type":"point","range":[196.5,196.5]}}}}
 ]},
{"width":935,"height":416,
 "view":{"fill":"#faf7f1","stroke":"#e3d9c8","cornerRadius":6},
 "resolve":{"scale":{"x":"independent","y":"independent","fill":"independent","color":"independent","stroke":"independent"}},
 "layer":[
  {"data":{"name":"hist"},"mark":{"type":"bar","fill":"#e8e8ef","stroke":"#e0d3c0","strokeWidth":1.2,"binSpacing":0},
   "encoding":{"x":{"field":"lo","bin":"binned","type":"quantitative","scale":{"domain":[0,0.9],"range":[50,515],"nice":false,"zero":false}},"x2":{"field":"hi"},
    "y":{"field":"non","type":"quantitative","scale":{"domain":[0,0.5441],"range":[229,45],"nice":false,"zero":true}}}},
  {"data":{"name":"hist"},"mark":{"type":"bar","fill":"#bf946a","fillOpacity":0.85,"stroke":"#f3ece1","strokeWidth":1,"binSpacing":0},
   "encoding":{"x":{"field":"lo","bin":"binned","type":"quantitative","scale":{"domain":[0,0.9],"range":[50,515],"nice":false,"zero":false}},"x2":{"field":"hi"},
    "y":{"field":"conv","type":"quantitative","scale":{"domain":[0,0.5441],"range":[229,45],"nice":false,"zero":true}}}},
  {"data":{"values":[{"v":0,"l":"0%"},{"v":0.3,"l":"30%"},{"v":0.6,"l":"60%"},{"v":0.9,"l":"90%"}]},"mark":{"type":"text","align":"center","fontSize":10,"color":"#7a6d60"},
   "encoding":{"text":{"field":"l"},"x":{"field":"v","type":"quantitative","scale":{"domain":[0,0.9],"range":[50,515],"nice":false,"zero":false}},"y":{"field":"l","type":"nominal","scale":{"type":"point","range":[242,242]}}}},
  {"data":{"values":[{"t":"p(convert)"}]},"mark":{"type":"text","align":"center","fontSize":10,"color":"#7a6d60"},
   "encoding":{"text":{"field":"t"},"x":{"field":"t","type":"nominal","scale":{"type":"point","range":[283,283]}},"y":{"field":"t","type":"nominal","scale":{"type":"point","range":[257,257]}}}},
  {"data":{"values":[{"k":"converters"},{"k":"non-converters (each group scaled to its own size)"}]},"mark":{"type":"point","shape":"square","size":90,"filled":true,"opacity":1,"strokeWidth":1},
   "encoding":{"x":{"field":"k","type":"nominal","scale":{"type":"point","domain":["converters","non-converters (each group scaled to its own size)"],"range":[20,111]}},"y":{"field":"k","type":"nominal","scale":{"type":"point","range":[19,19]}},
    "fill":{"field":"k","type":"nominal","scale":{"domain":["converters","non-converters (each group scaled to its own size)"],"range":["#c49a6c","#e8e8ef"]},"legend":null},
    "stroke":{"field":"k","type":"nominal","scale":{"domain":["converters","non-converters (each group scaled to its own size)"],"range":["#c49a6c","#d5c9b6"]},"legend":null}}},
  {"data":{"values":[{"k":"converters"},{"k":"non-converters (each group scaled to its own size)"}]},"mark":{"type":"text","fontSize":12.5,"color":"#4a4038"},
   "encoding":{"text":{"field":"k"},"x":{"field":"k","type":"nominal","scale":{"type":"point","domain":["converters","non-converters (each group scaled to its own size)"],"range":[30,121]}},"y":{"field":"k","type":"nominal","scale":{"type":"point","range":[19,19]}}}},
  {"data":{"values":[{"n":1,"t":"Round 22 is the model we keep: train AUC kept climbing to 0.93, the holdout peaked"},{"n":2,"t":"at 0.85 and slid after."}]},"mark":{"type":"text","fontSize":12.9,"color":"#4a4038"},
   "encoding":{"text":{"field":"t"},"x":{"field":"n","type":"ordinal","scale":{"type":"point","range":[15,15]}},"y":{"field":"n","type":"ordinal","scale":{"type":"point","range":[279.3,297]}}}},
  {"data":{"values":[{"g":0.5,"a":1,"b":60},{"g":0.7,"a":1,"b":60},{"g":0.9,"a":1,"b":60}]},"mark":{"type":"rule","color":"#ebe2d3","strokeWidth":1},
   "encoding":{"y":{"field":"g","type":"quantitative","scale":{"domain":[0.5,1],"range":[158,44],"nice":false,"zero":false}},
    "x":{"field":"a","type":"quantitative","scale":{"domain":[1,60],"range":[578,915],"nice":false,"zero":false}},"x2":{"field":"b"}}},
  {"data":{"values":[{"g":0.5},{"g":0.7},{"g":0.9}]},"mark":{"type":"text","align":"right","fontSize":10,"color":"#7a6d60"},
   "encoding":{"text":{"field":"g","type":"quantitative","format":".1f"},"y":{"field":"g","type":"quantitative","scale":{"domain":[0.5,1],"range":[158,44],"nice":false,"zero":false}},
    "x":{"field":"g","type":"nominal","scale":{"type":"point","range":[572,572]}}}},
  {"data":{"name":"auc"},"mark":{"type":"line","color":"#4a4b6b","strokeWidth":2},
   "encoding":{"x":{"field":"r","type":"quantitative","scale":{"domain":[1,60],"range":[578,915],"nice":false,"zero":false}},"y":{"field":"tr","type":"quantitative","scale":{"domain":[0.5,1],"range":[158,44],"nice":false,"zero":false}}}},
  {"data":{"name":"auc"},"mark":{"type":"line","color":"#8a5a36","strokeWidth":2},
   "encoding":{"x":{"field":"r","type":"quantitative","scale":{"domain":[1,60],"range":[578,915],"nice":false,"zero":false}},"y":{"field":"ho","type":"quantitative","scale":{"domain":[0.5,1],"range":[158,44],"nice":false,"zero":false}}}},
  {"data":{"values":[{"r":22,"lo":0.5,"hi":1}]},"mark":{"type":"rule","color":"#2b2520","strokeWidth":1.2,"strokeDash":[3,3]},
   "encoding":{"x":{"field":"r","type":"quantitative","scale":{"domain":[1,60],"range":[578,915],"nice":false,"zero":false}},
    "y":{"field":"lo","type":"quantitative","scale":{"domain":[0.5,1],"range":[158,44],"nice":false,"zero":false}},"y2":{"field":"hi"}}},
  {"data":{"values":[{"r":22,"l":"kept · 22"}]},"mark":{"type":"text","align":"center","fontSize":10.5,"color":"#6b5e52"},
   "encoding":{"text":{"field":"l"},"x":{"field":"r","type":"quantitative","scale":{"domain":[1,60],"range":[578,915],"nice":false,"zero":false}},"y":{"field":"l","type":"nominal","scale":{"type":"point","range":[170,170]}}}},
  {"data":{"values":[{"k":"train AUC"},{"k":"holdout AUC"}]},"mark":{"type":"point","shape":"square","size":90,"filled":true,"opacity":1},
   "encoding":{"x":{"field":"k","type":"nominal","scale":{"type":"point","domain":["train AUC","holdout AUC"],"range":[549.3,632.7]}},"y":{"field":"k","type":"nominal","scale":{"type":"point","range":[19,19]}},
    "fill":{"field":"k","type":"nominal","scale":{"domain":["train AUC","holdout AUC"],"range":["#4a4b6b","#8a5a36"]},"legend":null}}},
  {"data":{"values":[{"k":"train AUC"},{"k":"holdout AUC"}]},"mark":{"type":"text","fontSize":12.5,"color":"#4a4038"},
   "encoding":{"text":{"field":"k"},"x":{"field":"k","type":"nominal","scale":{"type":"point","domain":["train AUC","holdout AUC"],"range":[558.7,643]}},"y":{"field":"k","type":"nominal","scale":{"type":"point","range":[19,19]}}}},
  {"data":{"values":[{"t":"Where the trees split (importance)"}]},"mark":{"type":"text","fontSize":12.5,"color":"#4a4038"},
   "encoding":{"text":{"field":"t"},"x":{"field":"t","type":"nominal","scale":{"type":"point","range":[542,542]}},"y":{"field":"t","type":"nominal","scale":{"type":"point","range":[212,212]}}}},
  {"data":{"name":"imp"},"transform":[{"filter":"indexof(datum.f, '\\n') < 0"}],"mark":{"type":"text","fontSize":12.5,"color":"#4a4038"},
   "encoding":{"text":{"field":"f"},"x":{"field":"f","type":"nominal","scale":{"type":"point","range":[542,542]}},
    "y":{"field":"f","type":"nominal","scale":{"type":"point","domain":["Spend, 12 mo","_a","_b","Weeks since last\norder","_c","_d","Category breadth","_e","Sampling redeemed","_f","Purchasing power","_g","Orders"],"range":[232,351]}}}},
  {"data":{"name":"imp"},"transform":[{"filter":"indexof(datum.f, '\\n') >= 0"}],"mark":{"type":"text","fontSize":12.5,"color":"#4a4038","lineBreak":"\n","lineHeight":17,"dy":-9},
   "encoding":{"text":{"field":"f"},"x":{"field":"f","type":"nominal","scale":{"type":"point","range":[542,542]}},
    "y":{"field":"f","type":"nominal","scale":{"type":"point","domain":["Spend, 12 mo","_a","_b","Weeks since last\norder","_c","_d","Category breadth","_e","Sampling redeemed","_f","Purchasing power","_g","Orders"],"range":[232,351]}}}},
  {"data":{"name":"imp"},"mark":{"type":"rule","color":"#e8e8ef","strokeWidth":8},
   "encoding":{"x":{"field":"lo","type":"quantitative","scale":{"domain":[0,1],"range":[668,923],"nice":false,"zero":false}},"x2":{"field":"hi"},
    "y":{"field":"f","type":"nominal","scale":{"type":"point","domain":["Spend, 12 mo","_a","_b","Weeks since last\norder","_c","_d","Category breadth","_e","Sampling redeemed","_f","Purchasing power","_g","Orders"],"range":[233,352]}}}},
  {"data":{"name":"imp"},"mark":{"type":"rule","color":"#4a4b6b","strokeWidth":8},
   "encoding":{"x":{"field":"lo","type":"quantitative","scale":{"domain":[0,1],"range":[668,923],"nice":false,"zero":false}},"x2":{"field":"v"},
    "y":{"field":"f","type":"nominal","scale":{"type":"point","domain":["Spend, 12 mo","_a","_b","Weeks since last\norder","_c","_d","Category breadth","_e","Sampling redeemed","_f","Purchasing power","_g","Orders"],"range":[233,352]}}}},
  {"data":{"values":[{"b":"Replay the training"}]},"mark":{"type":"rect","fill":"#fcfaf6","stroke":"#d7cdbb","strokeWidth":1,"cornerRadius":3},
   "encoding":{"x":{"field":"b","type":"nominal","scale":{"type":"band","range":[542,699.7]}},"y":{"field":"b","type":"nominal","scale":{"type":"band","range":[371.3,407.3]}}}},
  {"data":{"values":[{"b":"Replay the training"}]},"mark":{"type":"text","align":"center","fontSize":13.5,"color":"#2b2520"},
   "encoding":{"text":{"field":"b"},"x":{"field":"b","type":"nominal","scale":{"type":"point","range":[620.8,620.8]}},"y":{"field":"b","type":"nominal","scale":{"type":"point","range":[389.3,389.3]}}}}
 ]},
{"width":935,"height":42,
 "data":{"values":[{"t":"STEP 2 · THE SCORE BECOMES AN AUDIENCE"}]},"mark":{"type":"text","font":"DejaVu Sans","fontWeight":"bold","fontSize":12,"color":"#4b4f70"},
 "encoding":{"text":{"field":"t"},"x":{"field":"t","type":"nominal","scale":{"type":"point","range":[2,2]}},"y":{"field":"t","type":"nominal","scale":{"type":"point","range":[26.5,26.5]}}}},
{"width":935,"height":327,
 "view":{"fill":"#faf7f1","stroke":"#e3d9c8","cornerRadius":6},
 "resolve":{"scale":{"x":"independent","y":"independent","color":"independent"}},
 "layer":[
  {"data":{"values":[{"lo":0,"s":0.2}]},"mark":{"type":"rect","fill":"#efeeec"},
   "encoding":{"x":{"field":"lo","type":"quantitative","scale":{"domain":[0,1],"range":[61,513],"nice":false,"zero":false}},"x2":{"field":"s"},
    "y":{"field":"s","type":"nominal","scale":{"type":"band","range":[22.7,250]}}}},
  {"data":{"values":[{"g":0,"a":0,"b":1},{"g":0.25,"a":0,"b":1},{"g":0.5,"a":0,"b":1},{"g":0.75,"a":0,"b":1},{"g":1,"a":0,"b":1}]},"mark":{"type":"rule","color":"#ebe3d5","strokeWidth":1},
   "encoding":{"y":{"field":"g","type":"quantitative","scale":{"domain":[0,1],"range":[250,22.7],"nice":false,"zero":false}},
    "x":{"field":"a","type":"quantitative","scale":{"domain":[0,1],"range":[61,513],"nice":false,"zero":false}},"x2":{"field":"b"}}},
  {"data":{"values":[{"g":0},{"g":0.25},{"g":0.5},{"g":0.75},{"g":1}]},"mark":{"type":"text","align":"right","fontSize":10,"color":"#7a6d60"},
   "encoding":{"text":{"field":"g","type":"quantitative","format":".0%"},"y":{"field":"g","type":"quantitative","scale":{"domain":[0,1],"range":[250,22.7],"nice":false,"zero":false}},
    "x":{"field":"g","type":"nominal","scale":{"type":"point","range":[53,53]}}}},
  {"data":{"values":[{"g":0},{"g":0.5},{"g":1}]},"mark":{"type":"text","align":"center","fontSize":10,"color":"#7a6d60"},
   "encoding":{"text":{"field":"g","type":"quantitative","format":".0%"},"x":{"field":"g","type":"quantitative","scale":{"domain":[0,1],"range":[61,513],"nice":false,"zero":false}},
    "y":{"field":"g","type":"nominal","scale":{"type":"point","range":[263.3,263.3]}}}},
  {"data":{"values":[{"a":0},{"a":1}]},"mark":{"type":"line","color":"#e0cfb6","strokeWidth":1.2,"strokeDash":[4,4]},
   "encoding":{"x":{"field":"a","type":"quantitative","scale":{"domain":[0,1],"range":[61,513],"nice":false,"zero":false}},"y":{"field":"a","type":"quantitative","scale":{"domain":[0,1],"range":[250,22.7],"nice":false,"zero":false}}}},
  {"data":{"name":"gains"},"mark":{"type":"line","color":"#4a4b6b","strokeWidth":2.2},
   "encoding":{"x":{"field":"s","type":"quantitative","scale":{"domain":[0,1],"range":[61,513],"nice":false,"zero":false}},"y":{"field":"c","type":"quantitative","scale":{"domain":[0,1],"range":[250,22.7],"nice":false,"zero":false}}}},
  {"data":{"values":[{"s":0.2,"c":0.642}]},"mark":{"type":"point","filled":true,"size":85,"color":"#4a4b6b","opacity":1,"stroke":"#faf7f1","strokeWidth":1.5},
   "encoding":{"x":{"field":"s","type":"quantitative","scale":{"domain":[0,1],"range":[61,513],"nice":false,"zero":false}},"y":{"field":"c","type":"quantitative","scale":{"domain":[0,1],"range":[250,22.7],"nice":false,"zero":false}}}},
  {"data":{"values":[{"t":"Select top"}]},"mark":{"type":"text","fontSize":13,"color":"#4a4038"},
   "encoding":{"text":{"field":"t"},"x":{"field":"t","type":"nominal","scale":{"type":"point","range":[13,13]}},"y":{"field":"t","type":"nominal","scale":{"type":"point","range":[304.5,304.5]}}}},
  {"data":{"values":[{"k":"slider"}]},"mark":{"type":"rect","fill":"#fafafa","stroke":"#111111","strokeWidth":2,"cornerRadius":4},
   "encoding":{"x":{"field":"k","type":"nominal","scale":{"type":"band","range":[86,377.4]}},"y":{"field":"k","type":"nominal","scale":{"type":"band","range":[296,313.3]}}}},
  {"data":{"values":[{"k":"track"}]},"mark":{"type":"rect","fill":"#eeeeee","stroke":"#b9b9b9","strokeWidth":1,"cornerRadius":5},
   "encoding":{"x":{"field":"k","type":"nominal","scale":{"type":"band","range":[88,375.3]}},"y":{"field":"k","type":"nominal","scale":{"type":"band","range":[299,310.7]}}}},
  {"data":{"values":[{"lo":0.05,"v":0.2,"l":"20%"}]},"mark":{"type":"rule","color":"#4a4b6b","strokeWidth":8,"strokeCap":"round"},
   "encoding":{"x":{"field":"lo","type":"quantitative","scale":{"domain":[0.05,0.6],"range":[93,367.3],"nice":false,"zero":false}},"x2":{"field":"v"},
    "y":{"field":"l","type":"nominal","scale":{"type":"point","range":[305,305]}}}},
  {"data":{"values":[{"v":0.2,"l":"20%"}]},"mark":{"type":"point","filled":true,"size":180,"color":"#4a4b6b","opacity":1},
   "encoding":{"x":{"field":"v","type":"quantitative","scale":{"domain":[0.05,0.6],"range":[93,367.3],"nice":false,"zero":false}},
    "y":{"field":"l","type":"nominal","scale":{"type":"point","range":[305,305]}}}},
  {"data":{"values":[{"v":0.2,"l":"20%"}]},"mark":{"type":"text","font":"Liberation Serif","fontWeight":"bold","fontSize":18,"color":"#1e1a16"},
   "encoding":{"text":{"field":"l"},"x":{"field":"l","type":"nominal","scale":{"type":"point","range":[397,397]}},"y":{"field":"l","type":"nominal","scale":{"type":"point","range":[304.5,304.5]}}}},
  {"data":{"values":[{"k":"conv"}]},"mark":{"type":"rect","fill":"#fbf9f5","stroke":"#e2d6c3","strokeWidth":1,"cornerRadius":5},
   "encoding":{"x":{"field":"k","type":"nominal","scale":{"type":"band","range":[542.5,922]}},"y":{"field":"k","type":"nominal","scale":{"type":"band","range":[10.7,79.3]}}}},
  {"data":{"values":[{"k":"sel"}]},"mark":{"type":"rect","fill":"#fbf9f5","stroke":"#e2d6c3","strokeWidth":1,"cornerRadius":5},
   "encoding":{"x":{"field":"k","type":"nominal","scale":{"type":"band","range":[542.5,922]}},"y":{"field":"k","type":"nominal","scale":{"type":"band","range":[90.3,179.6]}}}},
  {"data":{"values":[{"k":"lift"}]},"mark":{"type":"rect","fill":"#e8e8ef","stroke":"#4a4b6b","strokeWidth":1,"cornerRadius":5},
   "encoding":{"x":{"field":"k","type":"nominal","scale":{"type":"band","range":[542.5,922]}},"y":{"field":"k","type":"nominal","scale":{"type":"band","range":[190,279.3]}}}},
  {"data":{"name":"cards"},"mark":{"type":"text","font":"DejaVu Sans","fontWeight":"bold","fontSize":11.5,"color":"#6e5c4a"},
   "encoding":{"text":{"field":"l"},"x":{"field":"k","type":"nominal","scale":{"type":"point","range":[557,557]}},
    "y":{"field":"k","type":"nominal","scale":{"type":"point","domain":["conv","_a","_b","_c","sel","_d","_e","_f","_g","lift"],"range":[27,207]}}}},
  {"data":{"name":"cards"},"mark":{"type":"text","font":"Liberation Serif","fontSize":27},
   "encoding":{"text":{"field":"v"},"x":{"field":"k","type":"nominal","scale":{"type":"point","range":[556,556]}},
    "y":{"field":"k","type":"nominal","scale":{"type":"point","domain":["conv","_a","_b","_c","sel","_d","_e","_f","_g","lift"],"range":[54.5,234.5]}},
    "color":{"field":"k","type":"nominal","scale":{"domain":["conv","sel","lift"],"range":["#221c18","#221c18","#4a4b6b"]},"legend":null}}},
  {"data":{"name":"cards"},"transform":[{"filter":"datum.n != null"}],"mark":{"type":"text","fontSize":12,"color":"#6b6055"},
   "encoding":{"text":{"field":"n"},"x":{"field":"k","type":"nominal","scale":{"type":"point","range":[557,557]}},
    "y":{"field":"k","type":"nominal","scale":{"type":"point","domain":["sel","lift"],"range":[160.7,260.3]}}}}
 ]},
{"width":935,"height":41,
 "data":{"values":[{"t":"STEP 3 · TWO OBJECTIVES, ONE BASE"}]},"mark":{"type":"text","font":"DejaVu Sans","fontWeight":"bold","fontSize":12,"color":"#4b4f70"},
 "encoding":{"text":{"field":"t"},"x":{"field":"t","type":"nominal","scale":{"type":"point","range":[2,2]}},"y":{"field":"t","type":"nominal","scale":{"type":"point","range":[26.5,26.5]}}}},
{"width":935,"height":413,
 "view":{"fill":"#faf7f1","stroke":"#e3d9c8","cornerRadius":6},
 "resolve":{"scale":{"x":"independent","y":"independent","fill":"independent"}},
 "layer":[
  {"data":{"values":[{"k":"frame"}]},"mark":{"type":"rect","fill":"#fbf9f4","stroke":"#e4d9c7","strokeWidth":1.5},
   "encoding":{"x":{"field":"k","type":"nominal","scale":{"type":"band","range":[55.3,513]}},"y":{"field":"k","type":"nominal","scale":{"type":"band","range":[22.7,370.3]}}}},
  {"data":{"values":[{"t":60,"a":0,"b":100}]},"mark":{"type":"rule","color":"#e6d9c4","strokeWidth":1.2,"strokeDash":[4,3]},
   "encoding":{"x":{"field":"t","type":"quantitative","scale":{"domain":[0,100],"range":[55.3,513],"nice":false,"zero":false}},
    "y":{"field":"a","type":"quantitative","scale":{"domain":[0,100],"range":[370.3,22.7],"nice":false,"zero":false}},"y2":{"field":"b"}}},
  {"data":{"values":[{"t":60,"a":0,"b":100}]},"mark":{"type":"rule","color":"#e6d9c4","strokeWidth":1.2,"strokeDash":[4,3]},
   "encoding":{"y":{"field":"t","type":"quantitative","scale":{"domain":[0,100],"range":[370.3,22.7],"nice":false,"zero":false}},
    "x":{"field":"a","type":"quantitative","scale":{"domain":[0,100],"range":[55.3,513],"nice":false,"zero":false}},"x2":{"field":"b"}}},
  {"data":{"name":"g1"},"mark":{"type":"circle","size":19,"opacity":0.85,"color":"#8a8471"},
   "encoding":{"x":{"field":"x","type":"quantitative","scale":{"domain":[0,100],"range":[55.3,513],"nice":false,"zero":false}},"y":{"field":"y","type":"quantitative","scale":{"domain":[0,100],"range":[370.3,22.7],"nice":false,"zero":false}}}},
  {"data":{"name":"g2"},"mark":{"type":"circle","size":19,"opacity":0.85,"color":"#c4925f"},
   "encoding":{"x":{"field":"x","type":"quantitative","scale":{"domain":[0,100],"range":[55.3,513],"nice":false,"zero":false}},"y":{"field":"y","type":"quantitative","scale":{"domain":[0,100],"range":[370.3,22.7],"nice":false,"zero":false}}}},
  {"data":{"name":"g3"},"mark":{"type":"circle","size":19,"opacity":0.85,"color":"#86647c"},
   "encoding":{"x":{"field":"x","type":"quantitative","scale":{"domain":[0,100],"range":[55.3,513],"nice":false,"zero":false}},"y":{"field":"y","type":"quantitative","scale":{"domain":[0,100],"range":[370.3,22.7],"nice":false,"zero":false}}}},
  {"data":{"name":"g4"},"mark":{"type":"circle","size":19,"opacity":0.85,"color":"#4a4b6d"},
   "encoding":{"x":{"field":"x","type":"quantitative","scale":{"domain":[0,100],"range":[55.3,513],"nice":false,"zero":false}},"y":{"field":"y","type":"quantitative","scale":{"domain":[0,100],"range":[370.3,22.7],"nice":false,"zero":false}}}},
  {"data":{"values":[{"g":"G1","x":28,"y":29},{"g":"G2","x":82,"y":29},{"g":"G3","x":28,"y":83},{"g":"G4","x":82,"y":83}]},"mark":{"type":"text","align":"center","fontWeight":"bold","fontSize":10.5,"color":"#6b5a48"},
   "encoding":{"text":{"field":"g"},"x":{"field":"x","type":"quantitative","scale":{"domain":[0,100],"range":[55.3,513],"nice":false,"zero":false}},"y":{"field":"y","type":"quantitative","scale":{"domain":[0,100],"range":[370.3,22.7],"nice":false,"zero":false}}}},
  {"data":{"values":[{"t":"Product interest score →"}]},"mark":{"type":"text","align":"center","fontSize":10,"color":"#5a5048"},
   "encoding":{"text":{"field":"t"},"x":{"field":"t","type":"nominal","scale":{"type":"point","range":[284,284]}},"y":{"field":"t","type":"nominal","scale":{"type":"point","range":[387,387]}}}},
  {"data":{"values":[{"t":"Purchase intent score →"}]},"mark":{"type":"text","align":"center","angle":270,"fontSize":10,"color":"#5a5048"},
   "encoding":{"text":{"field":"t"},"x":{"field":"t","type":"nominal","scale":{"type":"point","range":[24,24]}},"y":{"field":"t","type":"nominal","scale":{"type":"point","range":[196,196]}}}},
  {"data":{"values":[{"n":1,"t":"The same base, scored twice: purchase intent and product"},{"n":2,"t":"interest. Score tags combine into four send groups."}]},"mark":{"type":"text","fontSize":13,"color":"#5a5048"},
   "encoding":{"text":{"field":"t"},"x":{"field":"n","type":"ordinal","scale":{"type":"point","range":[542,542]}},"y":{"field":"n","type":"ordinal","scale":{"type":"point","range":[18.7,36.3]}}}},
  {"data":{"name":"groups"},"mark":{"type":"point","shape":"square","size":90,"filled":true,"opacity":1},
   "encoding":{"x":{"field":"g","type":"nominal","scale":{"type":"point","range":[547,547]}},"y":{"field":"g","type":"nominal","scale":{"type":"point","range":[60,173]}},
    "fill":{"field":"g","type":"nominal","scale":{"domain":["G1","G2","G3","G4"],"range":["#8b8472","#bf8d5e","#7d5a73","#4a4b6b"]},"legend":null}}},
  {"data":{"name":"groups"},"mark":{"type":"text","fontWeight":"bold","fontSize":12.5,"color":"#221c18"},
   "encoding":{"text":{"field":"t"},"x":{"field":"g","type":"nominal","scale":{"type":"point","range":[566,566]}},"y":{"field":"g","type":"nominal","scale":{"type":"point","range":[59.7,172.7]}}}},
  {"data":{"name":"groups"},"mark":{"type":"text","fontSize":12.5,"color":"#6b6055"},
   "encoding":{"text":{"field":"s"},"x":{"field":"g","type":"nominal","scale":{"type":"point","range":[566,566]}},"y":{"field":"g","type":"nominal","scale":{"type":"point","range":[77.7,189.7]}}}},
  {"data":{"name":"groups"},"mark":{"type":"text","align":"right","font":"Liberation Serif","fontWeight":"bold","fontSize":16,"color":"#221c18"},
   "encoding":{"text":{"field":"c"},"x":{"field":"g","type":"nominal","scale":{"type":"point","range":[923,923]}},"y":{"field":"g","type":"nominal","scale":{"type":"point","range":[64,176.3]}}}}
 ]},
{"width":935,"height":112,
 "resolve":{"scale":{"x":"independent","y":"independent"}},
 "layer":[
  {"data":{"values":[{"n":1,"t":"Every number in step 2 comes from the 400 held-out customers the model never trained on. That is the only audience"},{"n":2,"t":"worth budgeting against; training applause is free and worthless."}]},"mark":{"type":"text","fontSize":14,"color":"#5a5048"},
   "encoding":{"text":{"field":"t"},"x":{"field":"n","type":"ordinal","scale":{"type":"point","range":[2,2]}},"y":{"field":"n","type":"ordinal","scale":{"type":"point","range":[22.5,42.5]}}}},
  {"data":{"values":[{"k":"hr","a":0,"b":1}]},"mark":{"type":"rule","color":"#d9d0c0","strokeWidth":1},
   "encoding":{"x":{"field":"a","type":"quantitative","scale":{"domain":[0,1],"range":[0,935],"nice":false,"zero":false}},"x2":{"field":"b"},
    "y":{"field":"k","type":"nominal","scale":{"type":"point","range":[66.7,66.7]}}}},
  {"data":{"values":[{"t":"Method and honesty notes"}]},"mark":{"type":"point","shape":"triangle-right","size":30,"filled":true,"opacity":1,"color":"#5a5048"},
   "encoding":{"x":{"field":"t","type":"nominal","scale":{"type":"point","range":[3.5,3.5]}},"y":{"field":"t","type":"nominal","scale":{"type":"point","range":[85.5,85.5]}}}},
  {"data":{"values":[{"t":"Method and honesty notes"}]},"mark":{"type":"text","fontWeight":"bold","fontSize":15,"color":"#5a5048"},
   "encoding":{"text":{"field":"t"},"x":{"field":"t","type":"nominal","scale":{"type":"point","range":[13.5,13.5]}},"y":{"field":"t","type":"nominal","scale":{"type":"point","range":[85.5,85.5]}}}}
 ]}
]
}
